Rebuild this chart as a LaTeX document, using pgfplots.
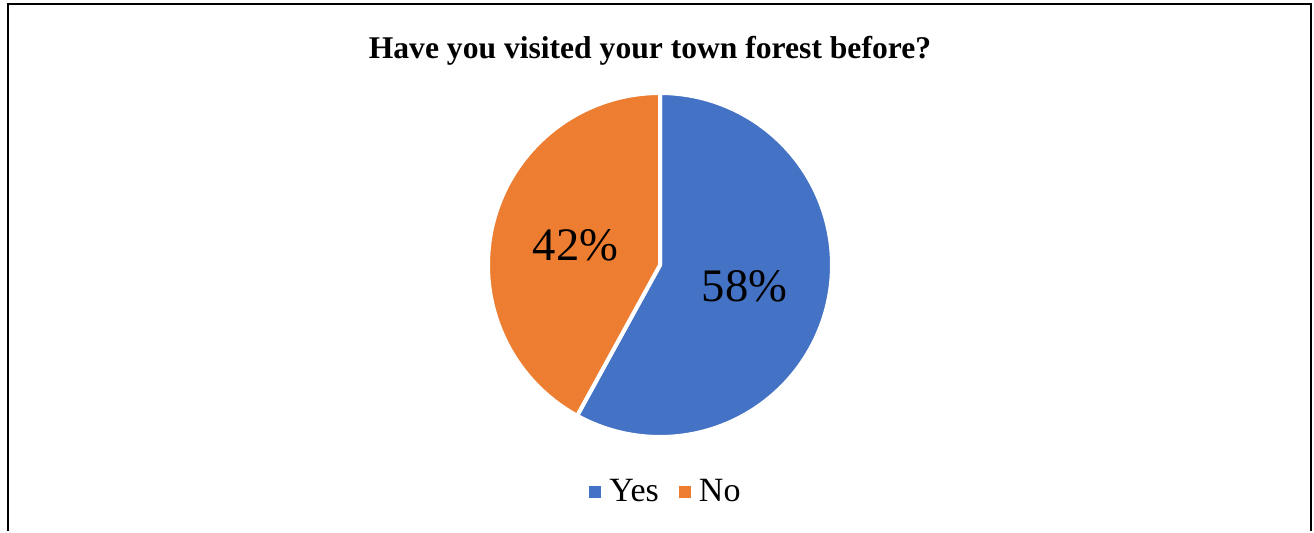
\documentclass[border=0pt]{standalone}
\usepackage{fontspec}
\setmainfont{Liberation Serif}
\usepackage{pgfplots}
\pgfplotsset{compat=1.18}
\definecolor{pieblue}{HTML}{4472C4}
\definecolor{pieorange}{HTML}{ED7D31}
\def\yesval{58}
\def\noval{42}
\pgfmathsetmacro\startang{90}
\pgfmathsetmacro\midang{90-3.6*\yesval}
\pgfmathsetmacro\endang{\midang-3.6*\noval}
\def\cx{660}
\def\cy{266}
\def\rr{172}
\begin{document}
\begin{tikzpicture}
\begin{axis}[
  width=657pt, height=265.5pt, scale only axis,
  xmin=0, xmax=1314, ymin=0, ymax=531,
  hide axis, clip=false,
  legend columns=2,
  legend style={at={(axis cs:667,39)}, anchor=center, draw=none, fill=none,
    font=\fontsize{17}{19}\selectfont,
    /tikz/every even column/.append style={column sep=8pt},
    inner sep=0pt},
  legend image code/.code={\fill[#1,draw=none] (0pt,-3pt) rectangle (6pt,3pt); \path[draw=none,fill=none] (0pt,0pt) -- (8pt,0pt);},
]
\path (axis cs:0,0) rectangle (axis cs:1314,531);
\draw[black, line width=1pt] (axis cs:7.5,0) -- (axis cs:7.5,527.5) -- (axis cs:1311,527.5) -- (axis cs:1311,0);
\addplot[fill=pieblue, draw=white, line width=2pt, line join=round, samples=150, domain=\startang:\midang, variable=\t]
  ({\cx+\rr*cos(\t)}, {\cy+\rr*sin(\t)}) -- (axis cs:\cx,\cy) -- cycle;
\addlegendentry{Yes}
\addplot[fill=pieorange, draw=white, line width=2pt, line join=round, samples=150, domain=\midang:\endang, variable=\t]
  ({\cx+\rr*cos(\t)}, {\cy+\rr*sin(\t)}) -- (axis cs:\cx,\cy) -- cycle;
\addlegendentry{No}
\node[anchor=base, font=\fontsize{23.3}{26}\selectfont, inner sep=0pt] at (axis cs:744.5,229.3) {\yesval\%};
\node[anchor=base, font=\fontsize{23.3}{26}\selectfont, inner sep=0pt] at (axis cs:575.5,271) {\noval\%};
\node[anchor=base, font=\bfseries\fontsize{15.8}{18}\selectfont, inner sep=0pt] at (axis cs:650,473) {Have you visited your town forest before?};
\end{axis}
\end{tikzpicture}
\end{document}
